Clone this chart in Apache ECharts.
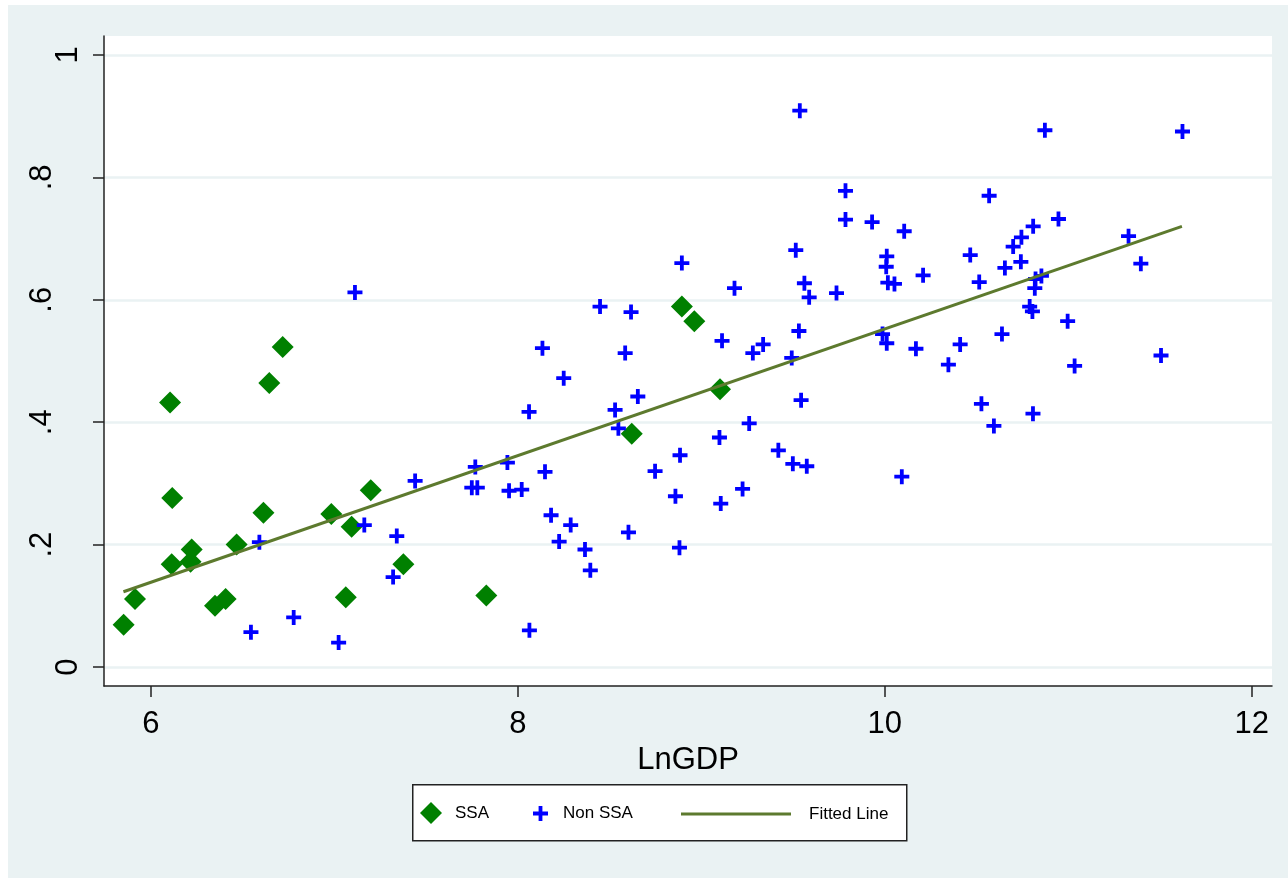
<!DOCTYPE html>
<html>
<head>
<meta charset="utf-8">
<script src="https://cdn.jsdelivr.net/npm/echarts@6/dist/echarts.min.js"></script>
<style>
html,body{margin:0;padding:0;background:#ffffff;}
#chart{position:absolute;left:8px;top:5px;width:1280px;height:873px;}
</style>
</head>
<body>
<div id="chart"></div>
<script>
// ---- Data ----
const ssaX = [5.851,5.913,6.104,6.116,6.113,6.216,6.222,6.349,6.407,6.467,6.613,6.645,6.718,6.983,7.062,7.094,7.198,7.376,7.828,8.621,8.894,8.962,9.102];
const ssaY = [0.069,0.111,0.432,0.276,0.168,0.172,0.192,0.100,0.111,0.200,0.252,0.464,0.523,0.250,0.114,0.229,0.289,0.168,0.117,0.381,0.589,0.565,0.454];

const nonX = [6.545,6.591,6.778,7.023,7.112,7.163,7.320,7.340,7.440,7.768,7.749,7.779,7.943,7.952,8.021,8.061,8.063,8.134,8.148,8.181,
  8.225,8.250,8.288,8.366,8.395,8.448,8.530,8.548,8.585,8.603,8.617,8.654,8.748,8.859,8.881,8.884,8.894,9.099,9.106,9.113,
  9.181,9.225,9.261,9.281,9.337,9.420,9.493,9.499,9.515,9.532,9.537,9.544,9.562,9.575,9.588,9.737,9.786,9.786,9.931,9.988,
  10.011,10.011,10.008,10.017,10.053,10.093,10.106,10.170,10.209,10.347,10.411,10.466,10.515,10.527,10.569,10.595,10.639,10.655,10.700,10.742,
  10.745,10.790,10.805,10.808,10.809,10.818,10.822,10.854,10.873,10.947,10.997,11.035,11.329,11.396,11.506,11.623];
const nonY = [0.057,0.204,0.081,0.040,0.612,0.232,0.147,0.214,0.304,0.327,0.293,0.293,0.334,0.288,0.290,0.417,0.060,0.521,0.319,0.248,
  0.205,0.472,0.232,0.192,0.158,0.589,0.420,0.390,0.513,0.220,0.580,0.442,0.320,0.279,0.195,0.346,0.660,0.375,0.267,0.533,
  0.619,0.291,0.398,0.513,0.527,0.354,0.505,0.332,0.681,0.549,0.909,0.436,0.627,0.328,0.604,0.611,0.778,0.731,0.727,0.544,
  0.529,0.671,0.654,0.628,0.626,0.311,0.712,0.520,0.640,0.494,0.527,0.673,0.629,0.430,0.770,0.394,0.544,0.652,0.687,0.662,
  0.702,0.589,0.581,0.414,0.720,0.619,0.634,0.639,0.877,0.732,0.565,0.492,0.704,0.659,0.509,0.875];

const fitX = [5.85, 11.62];
const fitY = [0.123, 0.720];

const xTickValues = [6, 8, 10, 12];
const xTickLabels = ['6', '8', '10', '12'];
const yTickValues = [0, 0.2, 0.4, 0.6, 0.8, 1];
const yTickLabels = ['0', '.2', '.4', '.6', '.8', '1'];

const seriesNames = ['SSA', 'Non SSA', 'Fitted Line'];
const xTitle = 'LnGDP';

// ---- Chart ----
const zip = (a, b) => a.map((v, i) => [v, b[i]]);
const plusPath = 'path://M5.6,0H9.4V5.6H15V9.4H9.4V15H5.6V9.4H0V5.6H5.6Z';
const linePath = 'path://M0,0H110V3H0Z';
const FONT = '"Liberation Sans", Arial, sans-serif';
const LINE_COLOR = '#5d7a2e';

const chart = echarts.init(document.getElementById('chart'), null, {renderer: 'canvas'});

const option = {
  animation: false,
  backgroundColor: '#eaf2f3',
  textStyle: {fontFamily: FONT},
  grid: {
    left: 96, top: 31, width: 1168, height: 650,
    show: true, backgroundColor: '#ffffff', borderWidth: 0,
    containLabel: false
  },
  xAxis: {
    type: 'value',
    min: 5.744, max: 12.111,
    name: xTitle,
    nameLocation: 'middle',
    nameGap: 44,
    nameTextStyle: {fontSize: 31, color: '#000', fontFamily: FONT},
    axisLine: {show: true, onZero: false, lineStyle: {color: '#222', width: 1.5}},
    axisTick: {show: true, length: 11, customValues: xTickValues, lineStyle: {color: '#222', width: 1.5}},
    axisLabel: {
      customValues: xTickValues,
      formatter: v => xTickLabels[xTickValues.indexOf(v)] ?? '',
      fontSize: 31, color: '#000', margin: 23, fontFamily: FONT
    },
    splitLine: {show: false}
  },
  yAxis: {
    type: 'value',
    min: -0.031, max: 1.031,
    axisLine: {show: true, onZero: false, lineStyle: {color: '#222', width: 1.5}},
    axisTick: {show: true, length: 11, customValues: yTickValues, lineStyle: {color: '#222', width: 1.5}},
    axisLabel: {
      customValues: yTickValues,
      rotate: 90,
      formatter: v => {
        const i = yTickValues.findIndex(t => Math.abs(t - v) < 1e-9);
        const s = i >= 0 ? yTickLabels[i] : '';
        return s.indexOf('.') === 0 ? '{d|' + s + '}' : '{n|' + s + '}';
      },
      rich: {
        n: {fontSize: 31, color: '#000', fontFamily: FONT},
        d: {fontSize: 31, color: '#000', fontFamily: FONT, padding: [0, 0, 26, 0]}
      },
      margin: 20
    },
    splitLine: {show: true, lineStyle: {color: '#eaf2f3', width: 2.5}}
  },
  legend: [
    {
      data: [{name: seriesNames[0], icon: 'diamond'}],
      left: 412, top: 797, padding: 0, itemWidth: 22, itemHeight: 22,
      textStyle: {fontSize: 17, color: '#000', fontFamily: FONT, padding: [0, 0, 0, 8]},
      selectedMode: false
    },
    {
      data: [{name: seriesNames[1], icon: plusPath}],
      left: 525, top: 800, padding: 0, itemWidth: 15, itemHeight: 15,
      textStyle: {fontSize: 17, color: '#000', fontFamily: FONT, padding: [0, 0, 0, 10]},
      selectedMode: false
    },
    {
      data: [{name: seriesNames[2], icon: linePath, itemStyle: {color: LINE_COLOR}}],
      left: 673, top: 800.5, padding: 0, itemWidth: 110, itemHeight: 3,
      textStyle: {fontSize: 17, color: '#000', fontFamily: FONT, padding: [0, 0, 0, 13]},
      selectedMode: false
    }
  ],
  graphic: [{
    type: 'rect', left: 404, top: 779, z: 1,
    shape: {width: 494, height: 56},
    style: {fill: '#ffffff', stroke: '#222', lineWidth: 1.5}
  }],
  series: [
    {
      name: seriesNames[0], type: 'scatter',
      data: zip(ssaX, ssaY),
      symbol: 'diamond', symbolSize: 22,
      itemStyle: {color: '#008000', opacity: 1},
      z: 3
    },
    {
      name: seriesNames[1], type: 'scatter',
      data: zip(nonX, nonY),
      symbol: plusPath, symbolSize: 15,
      itemStyle: {color: '#0000ff', opacity: 1},
      z: 4
    },
    {
      name: seriesNames[2], type: 'line',
      data: zip(fitX, fitY),
      symbol: 'none', showSymbol: false,
      lineStyle: {color: LINE_COLOR, width: 3},
      itemStyle: {color: LINE_COLOR},
      z: 5
    }
  ]
};

chart.setOption(option);
</script>
</body>
</html>
